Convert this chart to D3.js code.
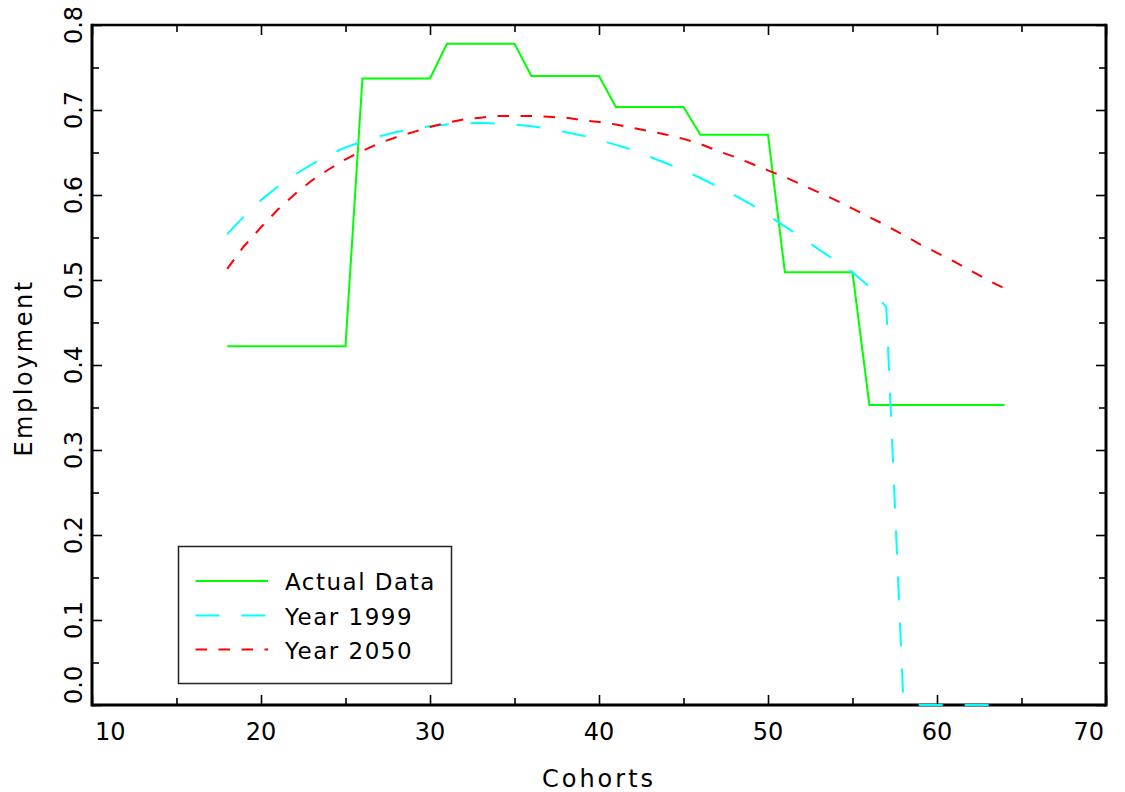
<!DOCTYPE html>
<html>
<head>
<meta charset="utf-8">
<script src="https://cdn.jsdelivr.net/npm/d3@7"></script>
<style>
  html, body { margin: 0; padding: 0; background: #fff; }
  svg { display: block; }
  text { font-family: "DejaVu Sans", "Liberation Sans", sans-serif; fill: #000; }
</style>
</head>
<body>
<svg id="chart" width="1125" height="792"></svg>
<script>
// ---- data ----
const cohorts = [18,19,20,21,22,23,24,25,26,27,28,29,30,31,32,33,34,35,36,37,38,39,40,
                 41,42,43,44,45,46,47,48,49,50,51,52,53,54,55,56,57,58,59,60,61,62,63,64];
const actualData = [0.422,0.422,0.422,0.422,0.422,0.422,0.422,0.422,
                    0.737,0.737,0.737,0.737,0.737,
                    0.778,0.778,0.778,0.778,0.778,
                    0.740,0.740,0.740,0.740,0.740,
                    0.7035,0.7035,0.7035,0.7035,0.7035,
                    0.671,0.671,0.671,0.671,0.671,
                    0.509,0.509,0.509,0.509,0.509,
                    0.353,0.353,0.353,0.353,0.353,0.353,0.353,0.353,0.353];
const year1999 = [0.554,0.575,0.594,0.610,0.624,0.636,0.647,0.656,0.663,0.669,0.674,0.678,0.681,
                  0.683,0.684,0.685,0.684,0.683,0.681,0.678,0.674,0.670,0.665,
                  0.659,0.653,0.645,0.637,0.629,0.620,0.610,0.600,0.589,0.576,
                  0.563,0.550,0.536,0.523,0.509,0.492,0.468,0.009,0.000,0.000,0.000,0.000,0.000,0.000];
const year2050 = [0.513,0.540,0.562,0.583,0.601,0.617,0.630,0.642,0.652,0.661,0.668,0.674,0.680,
                  0.685,0.689,0.691,0.693,0.693,0.693,0.692,0.691,0.688,0.686,
                  0.683,0.679,0.675,0.671,0.666,0.660,0.652,0.645,0.637,0.629,
                  0.621,0.612,0.603,0.594,0.584,0.574,0.564,0.553,0.542,0.532,0.522,0.511,0.500,0.490];
const seriesNames = ["Actual Data", "Year 1999", "Year 2050"];
const xMajorTicks = [10,20,30,40,50,60,70];
const xMinorTicks = [15,25,35,45,55,65];
const yMajorTicks = [0.0,0.1,0.2,0.3,0.4,0.5,0.6,0.7,0.8];
const yMinorTicks = [0.05,0.15,0.25,0.35,0.45,0.55,0.65,0.75];
const xTickLabels = ["10","20","30","40","50","60","70"];
const yTickLabels = ["0.0","0.1","0.2","0.3","0.4","0.5","0.6","0.7","0.8"];
const xTitle = "Cohorts";
const yTitle = "Employment";

// ---- layout ----
const L = 92, R = 1106, T = 25, B = 705;
const svg = d3.select("#chart");
const x = d3.scaleLinear().domain([10, 70]).range([L, R]);
const y = d3.scaleLinear().domain([0, 0.8]).range([B, T]);

const styles = [
  { color: "#00ff00", dash: null,        width: 2 },
  { color: "#00ffff", dash: "24,22",     width: 2 },
  { color: "#ff0000", dash: "11.5,11.5", width: 2 }
];
const allSeries = [actualData, year1999, year2050];

// ---- ticks via axes ----
function addAxis(axis, transform) {
  const g = svg.append("g").attr("transform", transform).call(axis);
  g.select(".domain").remove();
  g.selectAll(".tick line").attr("stroke", "#000").attr("stroke-width", 1.6);
  g.selectAll(".tick text").remove();
}
addAxis(d3.axisBottom(x).tickValues(xMajorTicks).tickSize(-10), `translate(0,${B})`);
addAxis(d3.axisBottom(x).tickValues(xMinorTicks).tickSize(-7), `translate(0,${B})`);
addAxis(d3.axisTop(x).tickValues(xMajorTicks).tickSize(-10), `translate(0,${T})`);
addAxis(d3.axisTop(x).tickValues(xMinorTicks).tickSize(-7), `translate(0,${T})`);
addAxis(d3.axisLeft(y).tickValues(yMajorTicks).tickSize(-10), `translate(${L},0)`);
addAxis(d3.axisLeft(y).tickValues(yMinorTicks).tickSize(-7), `translate(${L},0)`);
addAxis(d3.axisRight(y).tickValues(yMajorTicks).tickSize(-10), `translate(${R},0)`);
addAxis(d3.axisRight(y).tickValues(yMinorTicks).tickSize(-7), `translate(${R},0)`);

// ---- frame ----
svg.append("line").attr("x1", L).attr("x2", R).attr("y1", T).attr("y2", T).attr("stroke", "#000").attr("stroke-width", 2.5);
svg.append("line").attr("x1", L).attr("x2", R).attr("y1", B).attr("y2", B).attr("stroke", "#000").attr("stroke-width", 3);
svg.append("line").attr("x1", L).attr("x2", L).attr("y1", T - 1.2).attr("y2", B + 1.5).attr("stroke", "#000").attr("stroke-width", 3);
svg.append("line").attr("x1", R).attr("x2", R).attr("y1", T - 1.2).attr("y2", B + 1.5).attr("stroke", "#000").attr("stroke-width", 3);

// ---- lines (drawn over the frame) ----
const line = d3.line().x((d, i) => x(cohorts[i])).y(d => y(d));
allSeries.forEach((s, k) => {
  svg.append("path")
    .datum(s)
    .attr("d", line)
    .attr("fill", "none")
    .attr("stroke", styles[k].color)
    .attr("stroke-width", styles[k].width)
    .attr("stroke-dasharray", styles[k].dash)
    .attr("stroke-linejoin", "miter");
});

// ---- tick labels ----
xMajorTicks.forEach((v, i) => {
  let anchor = "middle", xx = x(v);
  if (i === 0) { anchor = "start"; xx = x(v) + 3; }
  if (i === xMajorTicks.length - 1) { anchor = "end"; xx = x(v) - 2; }
  svg.append("text").attr("x", xx).attr("y", 740)
    .attr("text-anchor", anchor).attr("font-size", 24).text(xTickLabels[i]);
});
yMajorTicks.forEach((v, i) => {
  let anchor = "middle", yy = y(v);
  if (i === 0) { anchor = "start"; yy = y(v) - 1; }
  svg.append("text").attr("transform", `translate(82,${yy}) rotate(-90)`)
    .attr("text-anchor", anchor).attr("font-size", 24).text(yTickLabels[i]);
});

// ---- axis titles ----
svg.append("text").attr("x", 599).attr("y", 787).attr("text-anchor", "middle")
  .attr("font-size", 24).attr("letter-spacing", 3).text(xTitle);
svg.append("text").attr("transform", "translate(32,368) rotate(-90)").attr("text-anchor", "middle")
  .attr("font-size", 24).attr("letter-spacing", 2.5).text(yTitle);

// ---- legend ----
const lg = svg.append("g");
lg.append("rect").attr("x", 178.5).attr("y", 546.5).attr("width", 273).attr("height", 137)
  .attr("fill", "#fff").attr("stroke", "#222").attr("stroke-width", 1.5);
const rowY = [581, 615.5, 649.5];
seriesNames.forEach((name, k) => {
  lg.append("line").attr("x1", 195.5).attr("x2", 268).attr("y1", rowY[k]).attr("y2", rowY[k])
    .attr("stroke", styles[k].color).attr("stroke-width", styles[k].width)
    .attr("stroke-dasharray", styles[k].dash);
  lg.append("text").attr("x", 285).attr("y", rowY[k] + 9)
    .attr("font-size", 23).attr("letter-spacing", 1.5).text(name);
});
</script>
</body>
</html>
